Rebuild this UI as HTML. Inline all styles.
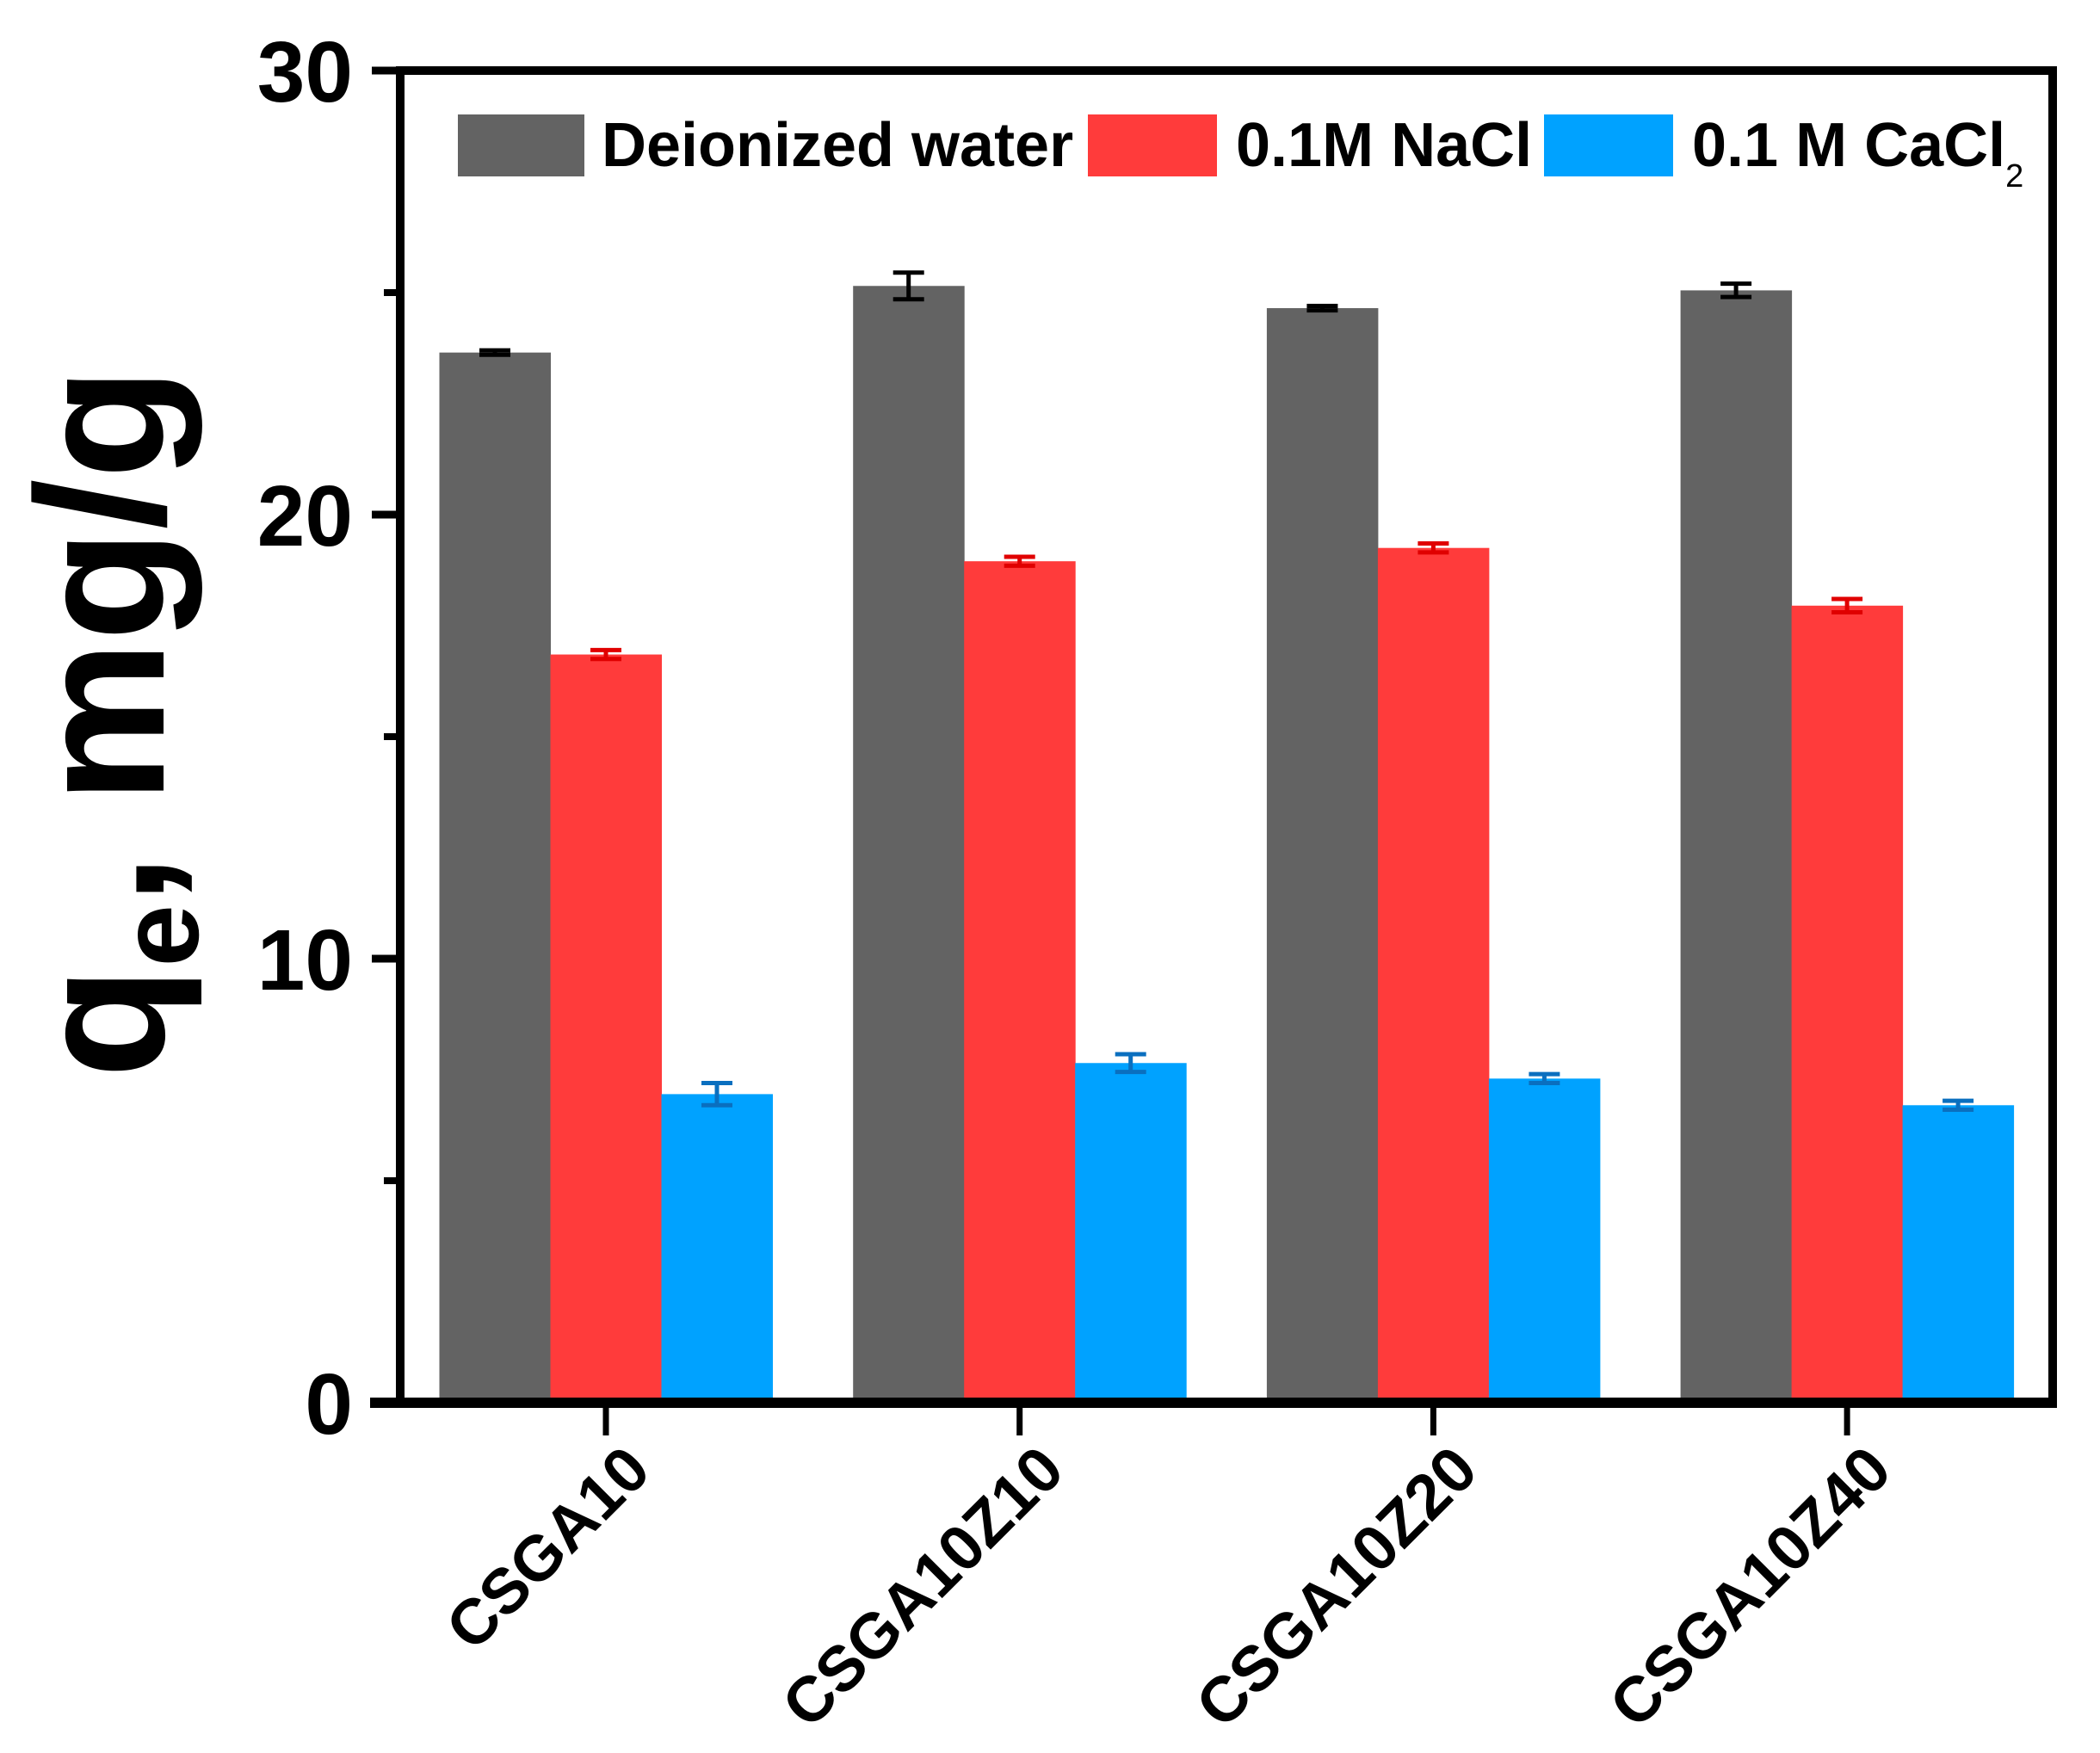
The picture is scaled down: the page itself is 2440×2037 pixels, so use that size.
<!DOCTYPE html>
<html><head><meta charset="utf-8"><style>
html,body{margin:0;padding:0;background:#fff}
svg{display:block;font-family:"Liberation Sans",sans-serif;font-weight:bold}
</style></head><body>
<svg id="chart" width="2440" height="2037" viewBox="0 0 2440 2037" xmlns="http://www.w3.org/2000/svg">
<g id="bars"></g>
<g id="axes"></g>
<g>
  <rect x="532" y="133" width="147" height="72" fill="#636363"/>
  <text x="699" y="193" font-size="72">Deionized water</text>
  <rect x="1264" y="133" width="150" height="72" fill="#ff3b3b"/>
  <text x="1436" y="193" font-size="72">0.1M NaCl</text>
  <rect x="1794" y="133" width="150" height="72" fill="#00a2ff"/>
  <text x="1966" y="193" font-size="72">0.1 M CaCl<tspan font-size="38" dy="24" font-weight="normal">2</tspan></text>
</g>
<text transform="translate(190,840) rotate(-90)" text-anchor="middle" font-size="212">q<tspan font-size="130" dy="40">e</tspan><tspan dy="-40">, mg/g</tspan></text>
</svg>
<script>
const categories = ["CSGA10","CSGA10Z10","CSGA10Z20","CSGA10Z40"];
const seriesNames = ["Deionized water","0.1M NaCl","0.1 M CaCl2"];
const deionized = [23.65, 25.15, 24.65, 25.05];
const nacl = [16.85, 18.95, 19.25, 17.95];
const cacl2 = [6.95, 7.65, 7.3, 6.7];
const deionizedErr = [0.05, 0.3, 0.05, 0.15];
const naclErr = [0.1, 0.1, 0.1, 0.15];
const cacl2Err = [0.25, 0.2, 0.1, 0.1];
const yTicks = [0, 10, 20, 30];
const yMinorTicks = [5, 15, 25];

const NS = "http://www.w3.org/2000/svg";
const X0 = 465, X1 = 2385, Y0 = 1630, Y30 = 82;
function y(v){ return Y0 - v * (Y0 - Y30) / 30; }
function xc(i){ return 704 + i * 480.7; }
const bw = 129;
function mk(tag, attrs, parent){ const e = document.createElementNS(NS, tag); for (const k in attrs) e.setAttribute(k, attrs[k]); parent.appendChild(e); return e; }
const bars = document.getElementById('bars');
const axes = document.getElementById('axes');
const series = [deionized, nacl, cacl2];
const errs = [deionizedErr, naclErr, cacl2Err];
const colors = ["#636363", "#ff3b3b", "#00a2ff"];
const errColors = ["#000", "#e00000", "#0a6fbf"];
const keys = ["deionized", "nacl", "cacl2"];
categories.forEach((c, i) => {
  series.forEach((s, j) => {
    const x = xc(i) - 1.5 * bw + j * bw;
    const r = mk('rect', {x: x, y: y(s[i]), width: bw + 0.5, height: Y0 - y(s[i]), fill: colors[j]}, bars);
    
    
    const cx = x + bw / 2, e = errs[j][i], g = mk('g', {stroke: errColors[j], 'stroke-width': 5}, bars);
    
    
    mk('line', {x1: cx, x2: cx, y1: y(s[i] + e), y2: y(s[i] - e)}, g);
    mk('line', {x1: cx - 18, x2: cx + 18, y1: y(s[i] + e), y2: y(s[i] + e)}, g);
    mk('line', {x1: cx - 18, x2: cx + 18, y1: y(s[i] - e), y2: y(s[i] - e)}, g);
  });
  const t = mk('line', {x1: xc(i), x2: xc(i), y1: Y0, y2: Y0 + 38, stroke: '#000', 'stroke-width': 7}, axes);
  
  
  const lbl = mk('text', {transform: `translate(${xc(i) + 55},1712) rotate(-45)`, 'text-anchor': 'end', 'font-size': 74}, axes);
  lbl.textContent = c;
  
  
});
const frame = mk('rect', {x: X0, y: Y30, width: X1 - X0, height: Y0 - Y30, fill: 'none', stroke: '#000', 'stroke-width': 10}, axes);


const xaxis = mk('line', {x1: 430, x2: X1 + 5, y1: Y0, y2: Y0, stroke: '#000', 'stroke-width': 12}, axes);


yTicks.forEach(v => {
  const t = mk('line', {x1: 432, x2: X0, y1: y(v), y2: y(v), stroke: '#000', 'stroke-width': 9}, axes);
  
  
  const l = mk('text', {x: 410, y: y(v) + 36, 'text-anchor': 'end', 'font-size': 100}, axes);
  l.textContent = v;
  
  
});
yMinorTicks.forEach(v => {
  const t = mk('line', {x1: 446, x2: X0, y1: y(v), y2: y(v), stroke: '#000', 'stroke-width': 8}, axes);
  
  
});
</script>
</body></html>
